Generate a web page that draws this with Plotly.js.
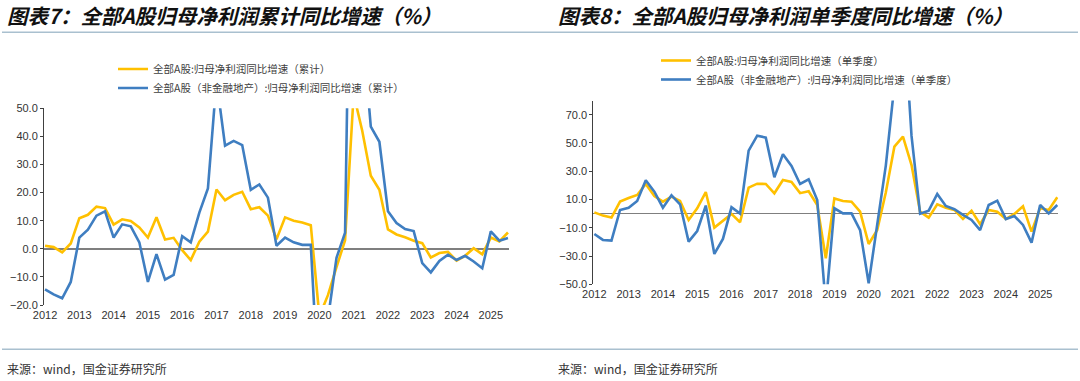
<!DOCTYPE html>
<html><head><meta charset="utf-8">
<script src="https://cdn.plot.ly/plotly-3.0.1.min.js"></script>
<style>html,body{margin:0;padding:0;background:#fff;}#chart{width:1080px;height:381px;}</style>
</head><body><div id="chart"></div>
<script>
// Quarterly periods 2012Q1 .. 2025Q3
const periods = [];
for (let y = 2012; y <= 2025; y++) for (let q = 1; q <= 4; q++) { if (y === 2025 && q > 3) break; periods.push(y + 'Q' + q); }
const yearTicks = [2012,2013,2014,2015,2016,2017,2018,2019,2020,2021,2022,2023,2024,2025];
const yearLabels = yearTicks.map(String);

// 图表7 累计同比
const cumAll = [1.1,0.6,-1.3,1.9, 10.9,12.1,15.0,14.5, 8.6,10.5,9.9,7.6, 4.0,11.2,3.3,3.9,
  -0.5,-4.0,2.5,6.1, 21.1,17.3,19.2,20.3, 14.1,14.8,11.8,3.4, 11.2,10.0,9.4,8.4,
  -24,-16.5,-6.5,3.0, 55,42,26,21, 6.9,5.1,4.1,2.9, 2.0,-3.1,-1.5,-1.1,
  -4.2,-2.5,0.2,-2.0, 4.0,2.6,5.8];
const cumNonFin = [-14.4,-16.2,-17.6,-11.8, 4.0,6.8,11.8,13.3, 4.0,8.7,8.0,2.3, -11.8,-1.9,-11.0,-9.3,
  4.5,2.3,12.9,21.5, 60,36.7,38.4,36.9, 21.0,22.9,18.2,1.1, 4.0,2.3,1.4,1.4,
  -55,-25,-3.2,5.7, 199,79,43.5,38.1, 13.4,9.2,7.0,6.3, -5.1,-8.4,-4.3,-2.1,
  -4.0,-2.5,-4.5,-6.9, 6.2,2.9,3.8];
// 图表8 单季度同比
const sqAll = [0.9,-1.4,-2.8,8.5, 11.1,13.2,21.0,12.5, 8.5,12.0,9.0,-4.5, 3.8,15.3,-9.9,-5.0,
  -0.2,-6.1,18.4,21.2, 21.0,14.4,23.8,22.4, 14.5,15.8,6.1,-31.6, 10.8,9.0,8.5,1.4,
  -21.5,-11.6,15.0,47.4, 54.5,34.4,1.4,-2.8, 6.6,4.2,2.6,-3.8, 2.1,-7.5,2.6,1.4,
  -3.8,-0.2,5.2,-12.7, 3.8,2.6,11.6];
const sqNonFin = [-14.4,-18.6,-19.1,2.6, 4.2,9.0,23.6,15.6, 4.2,13.0,6.6,-19.8, -12.3,5.7,-28.5,-17.9,
  4.5,0.0,44.6,55.2, 53.8,25.7,42.0,33.7, 21.0,24.3,9.7,-65, 3.8,0.2,0.2,-11.6,
  -49.3,-8,34,91, 150,55,0,2.1, 13.9,5.4,3.1,-0.9, -4.5,-11.6,6.1,9.2,
  -3.8,-1.7,-8.0,-20.5, 6.1,0.2,6.1];

const names1 = ['全部A股:归母净利润同比增速（累计）','全部A股（非金融地产）:归母净利润同比增速（累计）'];
const names2 = ['全部A股:归母净利润同比增速（单季度）','全部A股（非金融地产）:归母净利润同比增速（单季度）'];
const titles = ['图表7：全部A股归母净利润累计同比增速（%）','图表8：全部A股归母净利润单季度同比增速（%）'];
const sourceText = '来源：wind，国金证券研究所';

const YELLOW = '#FFC000', BLUE = '#3F7EC1';
const xNum = periods.map(p => +p.slice(0,4) + (+p.slice(5) - 1) / 4);

const W = 1080, H = 381;
const px = v => v / W, py = v => (H - v) / H;

const xr = [2011.97, 2025.53];
const y1r = [-20, 50], y2r = [-50, 80];
const xd1 = [px(44), px(509)], yd1 = [py(305), py(108.3)];
const xd2 = [px(593.3), px(1058.3)], yd2 = [py(284.3), py(100.6)];
const zeroPos = (r, d) => d[0] + (0 - r[0]) / (r[1] - r[0]) * (d[1] - d[0]);

const lineT = (y, name, color, xa, ya, leg) => ({
  x: xNum, y: y, name: name, type: 'scatter', mode: 'lines',
  line: {color: color, width: 2.6}, xaxis: xa, yaxis: ya, legend: leg, hoverinfo: 'skip'
});
const data = [
  lineT(cumAll, names1[0], YELLOW, 'x', 'y', 'legend'),
  lineT(cumNonFin, names1[1], BLUE, 'x', 'y', 'legend'),
  lineT(sqAll, names2[0], YELLOW, 'x2', 'y2', 'legend2'),
  lineT(sqNonFin, names2[1], BLUE, 'x2', 'y2', 'legend2')
];

const tickFont = {family: 'Liberation Sans, Arial, sans-serif', size: 11, color: '#333'};
const xBase = (dom, anchor) => ({domain: dom, anchor: anchor, range: xr, showgrid: false, zeroline: false,
  showline: false, ticks: '', tickvals: yearTicks, ticktext: yearLabels, tickfont: tickFont, fixedrange: true,
  ticklabelstandoff: 2});
const xTickOnly = (dom, over, pos) => ({domain: dom, overlaying: over, anchor: 'free', position: pos, range: xr,
  showgrid: false, zeroline: false, showline: false, ticks: 'inside', ticklen: 3, tickwidth: 1, tickcolor: '#404040',
  tickvals: yearTicks, showticklabels: false});
const yBase = (dom, anchor, r, tv) => ({domain: dom, anchor: anchor, range: r, showgrid: false,
  zeroline: true, zerolinecolor: '#7f7f7f', zerolinewidth: 1.5,
  showline: true, linecolor: '#404040', linewidth: 1, ticks: 'outside', ticklen: 3, tickcolor: '#404040',
  tickvals: tv, tickformat: '.1f', tickfont: tickFont, fixedrange: true});

const legFont = {family: 'Noto Sans CJK SC', size: 10.5, color: '#404040'};
const layout = {
  width: W, height: H, margin: {l: 0, r: 0, t: 0, b: 0},
  paper_bgcolor: '#fff', plot_bgcolor: 'rgba(0,0,0,0)', showlegend: true,
  xaxis: xBase(xd1, 'y'),
  yaxis: yBase(yd1, 'x', y1r, [-20,-10,0,10,20,30,40,50]),
  xaxis2: xBase(xd2, 'y2'),
  yaxis2: yBase(yd2, 'x2', y2r, [-50,-30,-10,10,30,50,70]),
  xaxis3: xTickOnly(xd1, 'x', zeroPos(y1r, yd1)),
  xaxis4: xTickOnly(xd2, 'x2', zeroPos(y2r, yd2)),
  legend: {x: px(113), y: py(54.5), xanchor: 'left', yanchor: 'top', font: legFont, bgcolor: 'rgba(0,0,0,0)', tracegroupgap: 0},
  legend2: {x: px(656), y: py(46), xanchor: 'left', yanchor: 'top', font: legFont, bgcolor: 'rgba(0,0,0,0)', tracegroupgap: 0},
  annotations: [
    {text: titles[0], x: px(5), y: py(15), xref: 'paper', yref: 'paper', xanchor: 'left', yanchor: 'middle', showarrow: false,
     font: {family: 'Noto Sans CJK SC', size: 20.5, color: '#111', weight: 'bold', style: 'italic'}},
    {text: titles[1], x: px(556), y: py(15), xref: 'paper', yref: 'paper', xanchor: 'left', yanchor: 'middle', showarrow: false,
     font: {family: 'Noto Sans CJK SC', size: 20.5, color: '#111', weight: 'bold', style: 'italic'}},
    {text: sourceText, x: px(5), y: py(368), xref: 'paper', yref: 'paper', xanchor: 'left', yanchor: 'middle', showarrow: false,
     font: {family: 'Noto Sans CJK SC', size: 12, color: '#333'}},
    {text: sourceText, x: px(556), y: py(368), xref: 'paper', yref: 'paper', xanchor: 'left', yanchor: 'middle', showarrow: false,
     font: {family: 'Noto Sans CJK SC', size: 12, color: '#333'}}
  ],
  shapes: [
    {type: 'line', xref: 'paper', yref: 'paper', x0: px(2), x1: px(1078), y0: py(32.3), y1: py(32.3), line: {color: '#a9c0cf', width: 1.5}},
    {type: 'line', xref: 'paper', yref: 'paper', x0: px(2), x1: px(1078), y0: py(349.3), y1: py(349.3), line: {color: '#a9c0cf', width: 1.5}}
  ]
};
Plotly.newPlot('chart', data, layout, {displayModeBar: false, staticPlot: true});
</script></body></html>
